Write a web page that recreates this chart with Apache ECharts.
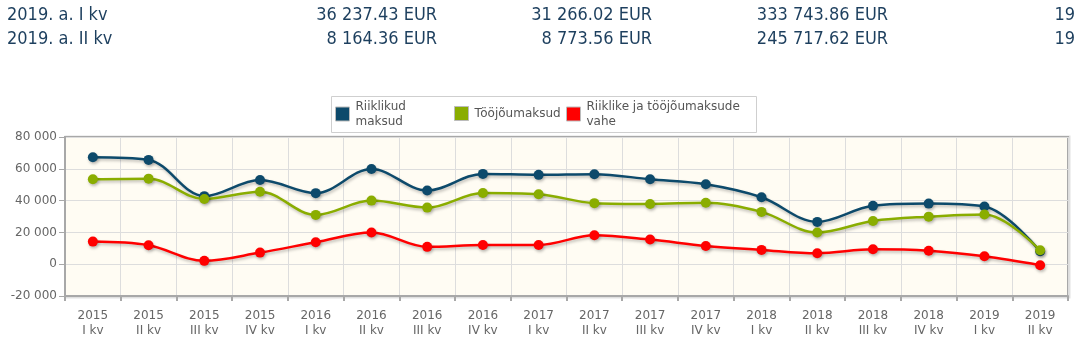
<!DOCTYPE html>
<html><head><meta charset="utf-8">
<script src="https://cdn.jsdelivr.net/npm/echarts@6/dist/echarts.min.js"></script>
<style>html,body{margin:0;padding:0;background:#fff}#c{width:1081px;height:347px}</style>
</head><body><div id="c"></div>
<script>
const categories = ["2015\nI kv","2015\nII kv","2015\nIII kv","2015\nIV kv","2016\nI kv","2016\nII kv","2016\nIII kv","2016\nIV kv","2017\nI kv","2017\nII kv","2017\nIII kv","2017\nIV kv","2018\nI kv","2018\nII kv","2018\nIII kv","2018\nIV kv","2019\nI kv","2019\nII kv"];
const riiklikud = [67300,65600,42800,53000,44700,59900,46300,56800,56200,56600,53400,50300,42100,26600,36700,38100,36237,8164];
const tooj = [53400,53800,41000,45600,31000,40000,35600,44800,44000,38400,37900,38700,32900,19900,27200,29900,31266,8774];
const vahe = [14200,11900,2100,7300,13800,19900,10900,12100,12100,18200,15500,11500,9000,6900,9400,8500,4971,-609];
const seriesNames = ["Riiklikud\nmaksud","Tööjõumaksud","Riiklike ja tööjõumaksude\nvahe"];
const colors = ["#0d4a6b","#8aad00","#ff0000"];
const tableRows = [
  ["2019. a. I kv","36 237.43 EUR","31 266.02 EUR","333 743.86 EUR","19"],
  ["2019. a. II kv","8 164.36 EUR","8 773.56 EUR","245 717.62 EUR","19"]
];
const yTicks = {min:-20000,max:80000,interval:20000};

const chart = echarts.init(document.getElementById('c'));
const tableX = [7,437,652,888,1075];
const graphics = [];
tableRows.forEach((row,ri)=>{
  row.forEach((t,ci)=>{
    graphics.push({type:'text',x:tableX[ci],y:15+ri*24,style:{text:t,fill:'#1d3f5e',font:'18px "DejaVu Sans Condensed", "Liberation Sans Narrow", sans-serif',textAlign:ci===0?'left':'right',textVerticalAlign:'middle'}});
  });
});
graphics.push({type:'rect',shape:{x:66,y:137,width:1003,height:160},style:{fill:'none',stroke:'rgba(0,0,0,0.12)',lineWidth:3},z:-1,silent:true});
graphics.push({type:'rect',shape:{x:331.5,y:96.5,width:425,height:36},style:{fill:'#fff',stroke:'#cfcfcf',lineWidth:1},z:-1,silent:true});

function fmt(v){return String(v).replace(/\B(?=(\d{3})+(?!\d))/g,' ');}

const legendLeft = [335,454,566];
const legendTop = [99,106,99];
const legends = seriesNames.map((n,i)=>({
  left:legendLeft[i],top:legendTop[i],padding:0,
  icon:'rect',itemWidth:14,itemHeight:14,itemGap:0,
  itemStyle:{borderColor:'#bbb',borderWidth:1},
  textStyle:{color:'#555',fontSize:12,lineHeight:15,padding:[0,0,0,1]},
  data:[n]
}));

chart.setOption({
  animation:false,
  color:colors,
  textStyle:{fontFamily:'"DejaVu Sans", Verdana, sans-serif'},
  graphic:graphics,
  legend:legends,
  grid:{left:65,right:13,top:137,bottom:51,show:true,backgroundColor:'#fffcf3',borderColor:'#a8a8a8',borderWidth:2},
  xAxis:{type:'category',data:categories,boundaryGap:true,
    axisLine:{show:true,onZero:false,lineStyle:{color:'#a8a8a8',width:2}},
    axisTick:{show:true,length:5,lineStyle:{color:'#a8a8a8',width:2}},
    axisLabel:{color:'#666',fontSize:12,lineHeight:15,margin:12},
    splitLine:{show:true,lineStyle:{color:'#dddddd',width:1}}
  },
  yAxis:{type:'value',min:yTicks.min,max:yTicks.max,interval:yTicks.interval,
    axisLine:{show:true,lineStyle:{color:'#a8a8a8',width:2}},
    axisTick:{show:true,length:6,lineStyle:{color:'#a8a8a8',width:1}},
    axisLabel:{color:'#666',fontSize:12,margin:8,formatter:fmt},
    splitLine:{show:true,lineStyle:{color:'#dddddd',width:1}}
  },
  series:[riiklikud,tooj,vahe].map((d,i)=>({
    name:seriesNames[i],type:'line',data:d,smooth:0.35,
    symbol:'circle',symbolSize:10,
    lineStyle:{width:2.5,color:colors[i],shadowColor:'rgba(0,0,0,0.25)',shadowBlur:3,shadowOffsetY:2,shadowOffsetX:1},
    itemStyle:{color:colors[i],shadowColor:'rgba(0,0,0,0.25)',shadowBlur:3,shadowOffsetY:2,shadowOffsetX:1}
  }))
});
</script></body></html>
